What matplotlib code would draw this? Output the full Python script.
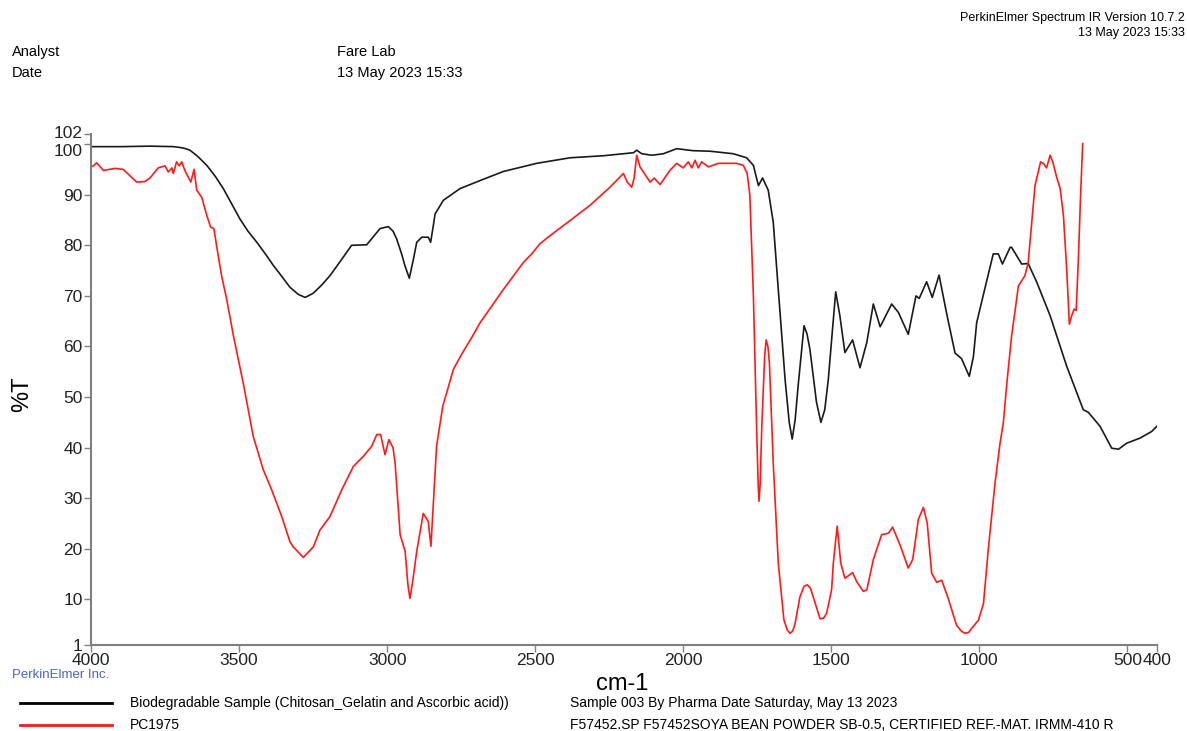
import numpy as np
import matplotlib
matplotlib.use("Agg")
from matplotlib import pyplot as plt
from matplotlib.lines import Line2D

plt.rcParams["font.family"] = ["Liberation Sans", "DejaVu Sans"]

# Biodegradable Sample (Chitosan_Gelatin and Ascorbic acid)
bio_wn = [4000, 3900, 3800, 3720, 3696, 3680, 3666, 3640, 3609, 3580, 3553,
          3525, 3497, 3470, 3440, 3410, 3384, 3355, 3328, 3300, 3277, 3250,
          3220, 3193, 3150, 3120, 3069, 3045, 3024, 2996, 2980, 2968, 2951,
          2940, 2925, 2912, 2900, 2883, 2861, 2853, 2845, 2838, 2810, 2754,
          2686, 2607, 2495, 2382, 2270, 2168, 2157, 2140, 2106, 2067, 2022,
          1966, 1910, 1831, 1786, 1763, 1746, 1732, 1713, 1696, 1679, 1656,
          1642, 1632, 1622, 1611, 1592, 1582, 1572, 1550, 1535, 1522, 1510,
          1495, 1485, 1471, 1454, 1428, 1403, 1380, 1358, 1335, 1296, 1273,
          1240, 1214, 1203, 1178, 1159, 1136, 1110, 1082, 1060, 1034, 1020,
          1009, 975, 953, 936, 922, 896, 891, 857, 835, 806, 761, 705, 649,
          632, 592, 553, 530, 502, 457, 418, 401]
bio_t = [99.5, 99.5, 99.6, 99.5, 99.3, 99.1, 98.8, 97.6, 95.8, 93.6, 91.2,
         88.2, 85.2, 82.8, 80.6, 78.2, 76.0, 73.8, 71.7, 70.3, 69.7, 70.5,
         72.2, 74.0, 77.5, 80.0, 80.1, 81.8, 83.3, 83.7, 82.8, 81.3, 78.3,
         76.0, 73.5, 77.0, 80.6, 81.6, 81.6, 80.6, 83.5, 86.2, 88.9, 91.2,
         92.8, 94.6, 96.2, 97.3, 97.7, 98.3, 98.8, 98.1, 97.8, 98.1, 99.1,
         98.7, 98.6, 98.1, 97.3, 95.8, 91.8, 93.3, 90.9, 84.6, 71.3, 53.5,
         45.0, 41.7, 45.5, 52.8, 64.1, 62.5, 59.4, 49.0, 45.0, 47.5, 53.5,
         64.0, 70.8, 66.1, 58.8, 61.3, 55.8, 60.8, 68.4, 63.9, 68.4, 66.7,
         62.4, 70.0, 69.5, 72.8, 69.7, 74.1, 66.4, 58.7, 57.6, 54.1, 58.0,
         64.7, 73.0, 78.3, 78.3, 76.3, 79.6, 79.6, 76.3, 76.4, 72.7, 66.1,
         56.1, 47.5, 47.0, 44.2, 39.9, 39.7, 40.9, 41.9, 43.2, 44.2]

# PC1975 reference
pc_wn = [4000, 3992, 3981, 3958, 3919, 3891, 3846, 3818, 3801, 3773, 3750,
         3739, 3727, 3722, 3711, 3702, 3694, 3683, 3663, 3652, 3643, 3626,
         3609, 3596, 3585, 3575, 3559, 3542, 3519, 3486, 3452, 3418, 3390,
         3356, 3328, 3317, 3283, 3249, 3227, 3193, 3153, 3114, 3080, 3052,
         3035, 3022, 3007, 2994, 2980, 2973, 2956, 2939, 2930, 2923, 2915,
         2900, 2878, 2861, 2852, 2833, 2812, 2776, 2748, 2714, 2686, 2607,
         2540, 2512, 2484, 2450, 2382, 2315, 2247, 2202, 2189, 2174, 2166,
         2157, 2146, 2112, 2098, 2078, 2045, 2022, 2000, 1983, 1971, 1960,
         1949, 1938, 1915, 1881, 1820, 1797, 1784, 1775, 1763, 1752, 1747,
         1744, 1740, 1735, 1725, 1720, 1714, 1709, 1696, 1679, 1660, 1649,
         1639, 1630, 1622, 1606, 1592, 1581, 1570, 1561, 1538, 1526, 1516,
         1499, 1493, 1480, 1468, 1454, 1428, 1414, 1392, 1380, 1358, 1330,
         1307, 1293, 1268, 1240, 1225, 1206, 1189, 1176, 1161, 1144, 1127,
         1105, 1077, 1060, 1048, 1036, 1026, 1003, 986, 969, 947, 930, 919,
         907, 891, 868, 857, 846, 835, 823, 812, 804, 793, 784, 773, 761, 752,
         739, 727, 716, 705, 696, 688, 680, 673, 666, 658, 651]
pc_t = [95.5, 95.7, 96.3, 94.8, 95.2, 95.0, 92.5, 92.6, 93.3, 95.3, 95.7,
        94.5, 95.3, 94.2, 96.5, 95.7, 96.5, 94.8, 92.5, 95.0, 90.9, 89.5,
        85.9, 83.6, 83.3, 79.6, 74.0, 69.4, 62.1, 52.8, 42.2, 35.6, 31.7,
        26.4, 21.4, 20.4, 18.3, 20.4, 23.7, 26.4, 31.7, 36.3, 38.3, 40.3,
        42.6, 42.6, 38.6, 41.6, 40.0, 37.0, 22.8, 19.5, 13.0, 10.2, 13.0,
        19.5, 27.0, 25.4, 20.5, 40.3, 48.2, 55.5, 58.5, 61.8, 64.7, 71.3,
        76.6, 78.3, 80.3, 81.9, 84.9, 87.9, 91.5, 94.2, 92.5, 91.5, 93.2,
        97.8, 95.5, 92.5, 93.3, 92.0, 94.8, 96.2, 95.3, 96.5, 95.3, 96.8,
        95.3, 96.5, 95.5, 96.2, 96.2, 95.8, 94.2, 89.9, 70.0, 43.6, 33.0,
        29.4, 33.0, 43.6, 58.0, 61.3, 60.0, 56.8, 37.0, 17.2, 6.0, 4.0,
        3.3, 3.8, 5.3, 10.5, 12.6, 12.9, 12.2, 10.5, 6.2, 6.3, 7.2,
        11.9, 17.2, 24.5, 17.2, 14.2, 15.3, 13.5, 11.6, 11.9, 17.9, 22.8,
        23.1, 24.3, 20.8, 16.2, 17.9, 25.8, 28.2, 25.1, 15.2, 13.4, 13.8,
        10.2, 4.9, 3.7, 3.3, 3.5, 4.3, 5.9, 9.2, 20.4, 33.0, 40.9, 44.9,
        52.8, 62.1, 72.0, 73.0, 74.0, 76.6, 84.6, 91.8, 93.8, 96.5, 96.2, 95.3, 97.8, 96.5,
        93.5, 91.2, 85.9, 75.3, 64.4, 66.1, 67.4, 67.1, 76.6, 89.9, 100.1]

x_ticks = [4000, 3500, 3000, 2500, 2000, 1500, 1000, 500, 400]
y_ticks = [1, 10, 20, 30, 40, 50, 60, 70, 80, 90, 100, 102]

W, H = 1187, 731
fig = plt.figure(figsize=(W / 100, H / 100), dpi=100)
ax = fig.add_axes([91 / W, 1 - 645 / H, (1157 - 91) / W, (645 - 134) / H])

ax.plot(bio_wn, bio_t, color="#1a1a1a", linewidth=1.2)
ax.plot(pc_wn, pc_t, color="#ff1a1a", linewidth=1.2)

ax.set_xlim(4000, 400)
ax.set_ylim(1, 102)
ax.set_xticks(x_ticks)
ax.set_xticklabels([str(v) for v in x_ticks])
ax.set_yticks(y_ticks)
for side in ["top", "right"]:
    ax.spines[side].set_visible(False)
for side in ["left", "bottom"]:
    ax.spines[side].set_color("#808080")
    ax.spines[side].set_linewidth(1.5)
ax.tick_params(direction="out", length=5, width=1, color="#808080",
               labelsize=12.5, labelcolor="#222222", pad=1)
# keep 100 and 102 apart like the instrument printout does
ylabels = ax.get_yticklabels()
ylabels[-2].set_verticalalignment("top")
ylabels[-1].set_verticalalignment("center")
ax.set_ylabel("%T", fontsize=17)
ax.yaxis.set_label_coords(-0.0545, 0.49)


def txt(x, y, s, **kw):
    fig.text(x / W, 1 - y / H, s, va="center", **kw)


txt(1185, 18, "PerkinElmer Spectrum IR Version 10.7.2", ha="right", fontsize=9)
txt(1185, 33, "13 May 2023 15:33", ha="right", fontsize=9)
txt(12, 52, "Analyst", fontsize=10.5)
txt(12, 73, "Date", fontsize=10.5)
txt(337, 52, "Fare Lab", fontsize=10.5)
txt(337, 73, "13 May 2023 15:33", fontsize=10.5)
txt(622, 684, "cm-1", ha="center", fontsize=17)
txt(12, 675, "PerkinElmer Inc.", fontsize=9.5, color="#4a63c8")

fig.add_artist(Line2D([20 / W, 112 / W], [1 - 703 / H] * 2, color="black", lw=2))
fig.add_artist(Line2D([20 / W, 112 / W], [1 - 725 / H] * 2, color="#ff1a1a", lw=2))
txt(130, 703, "Biodegradable Sample (Chitosan_Gelatin and Ascorbic acid))", fontsize=10)
txt(130, 725, "PC1975", fontsize=10)
txt(570, 703, "Sample 003 By Pharma Date Saturday, May 13 2023", fontsize=10)
txt(570, 725, "F57452.SP F57452SOYA BEAN POWDER SB-0.5, CERTIFIED REF.-MAT. IRMM-410 R",
    fontsize=10)

plt.savefig("out.png", dpi=100)
plt.close()
